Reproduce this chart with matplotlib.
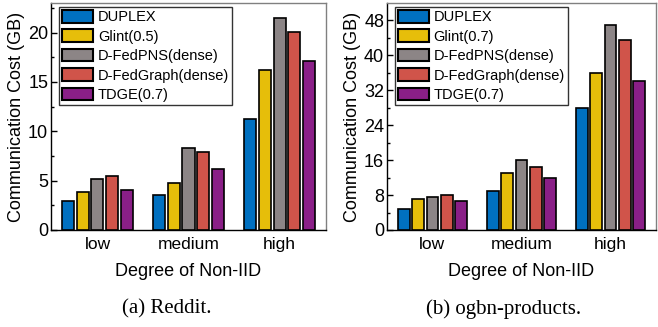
import matplotlib
matplotlib.use("Agg")
import matplotlib.pyplot as plt
import numpy as np
from matplotlib.ticker import MultipleLocator

categories = ["low", "medium", "high"]
methods_a = ["DUPLEX", "Glint(0.5)", "D-FedPNS(dense)", "D-FedGraph(dense)", "TDGE(0.7)"]
methods_b = ["DUPLEX", "Glint(0.7)", "D-FedPNS(dense)", "D-FedGraph(dense)", "TDGE(0.7)"]

reddit_duplex = [2.9, 3.5, 11.2]
reddit_glint = [3.8, 4.8, 16.2]
reddit_pns = [5.2, 8.3, 21.5]
reddit_graph = [5.5, 7.9, 20.1]
reddit_tdge = [4.1, 6.2, 17.1]

prod_duplex = [4.9, 9.0, 27.8]
prod_glint = [7.0, 13.0, 36.0]
prod_pns = [7.5, 16.0, 46.9]
prod_graph = [8.1, 14.5, 43.4]
prod_tdge = [6.7, 12.0, 34.0]

colors = ["#0070C0", "#E6BE0A", "#8C8586", "#D0544A", "#8A1F87"]

plt.rcParams["font.family"] = ["Liberation Sans", "DejaVu Sans"]

fig = plt.figure(figsize=(6.58, 3.27), dpi=100)
ax1 = fig.add_axes([51/658, 97/327, 275/658, 227/327])
ax2 = fig.add_axes([387/658, 97/327, 269/658, 227/327])

def draw(ax, series, labels, ylim, major, minor):
    x = np.arange(len(categories))
    pitch = 0.161
    width = 0.132
    for i, (vals, lab) in enumerate(zip(series, labels)):
        ax.bar(x + (i - 2) * pitch, vals, width, color=colors[i], edgecolor="black",
               linewidth=1.2, label=lab, zorder=3)
    ax.set_xlim(-0.51, 2.51)
    ax.set_ylim(0, ylim)
    ax.set_xticks(x)
    ax.set_xticklabels(categories, fontsize=12.5)
    ax.yaxis.set_major_locator(MultipleLocator(major))
    ax.yaxis.set_minor_locator(MultipleLocator(minor))
    ax.tick_params(axis="y", which="major", direction="in", length=4, labelsize=13, width=1, pad=2)
    ax.tick_params(axis="y", which="minor", direction="in", length=2, width=1)
    ax.tick_params(axis="x", which="major", direction="in", length=3, labelsize=12.5, pad=5)
    ax.set_ylabel("Communication Cost (GB)", fontsize=13, labelpad=2)
    ax.set_xlabel("Degree of Non-IID", fontsize=13, labelpad=8)
    for s in ["left", "bottom"]:
        ax.spines[s].set_color("black")
        ax.spines[s].set_linewidth(1.0)
    for s in ["top", "right"]:
        ax.spines[s].set_color("#808080")
        ax.spines[s].set_linewidth(1.0)
    leg = ax.legend(loc="upper left", fontsize=10.5, frameon=True, fancybox=False,
                    handlelength=2.1, handleheight=0.95, labelspacing=0.35,
                    handletextpad=0.35, borderpad=0.2, borderaxespad=0.0,
                    bbox_to_anchor=(0.03, 0.982))
    leg.get_frame().set_edgecolor("black")
    leg.get_frame().set_linewidth(1.0)
    for h in leg.legend_handles:
        h.set_linewidth(1.5)

draw(ax1, [reddit_duplex, reddit_glint, reddit_pns, reddit_graph, reddit_tdge], methods_a, 23.0, 5, 2.5)
draw(ax2, [prod_duplex, prod_glint, prod_pns, prod_graph, prod_tdge], methods_b, 51.9, 8, 4)

fig.text(167/658, 1 - 309/327, "(a) Reddit.", ha="center", va="center", fontsize=15,
         family=["Liberation Serif", "DejaVu Serif"])
fig.text(504/658, 1 - 309/327, "(b) ogbn-products.", ha="center", va="center", fontsize=15,
         family=["Liberation Serif", "DejaVu Serif"])

fig.savefig("out.png", dpi=100)
